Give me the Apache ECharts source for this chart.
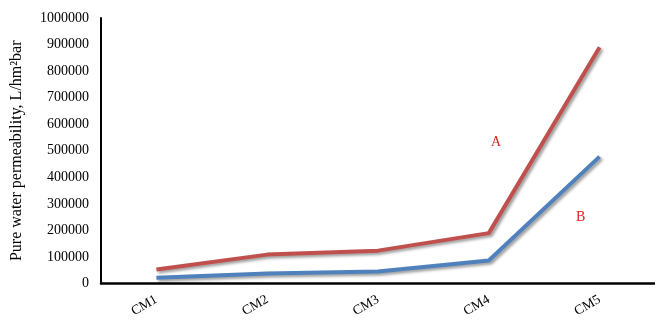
<!DOCTYPE html>
<html><head><meta charset="utf-8">
<script src="https://cdn.jsdelivr.net/npm/echarts@6/dist/echarts.min.js"></script>
<style>html,body{margin:0;padding:0;background:#fff}#c{width:655px;height:320px}</style>
</head><body><div id="c"></div>
<script>
var categories = ['CM1','CM2','CM3','CM4','CM5'];
var seriesA = [53000, 109000, 124000, 190000, 890000];
var seriesB = [22000, 38000, 45000, 87000, 478000];
var yTicks = [0,100000,200000,300000,400000,500000,600000,700000,800000,900000,1000000];
var font = '"Liberation Serif","Times New Roman",serif';
var chart = echarts.init(document.getElementById('c'));
function lineSeries(name, data, color){
  return {name:name,type:'line',data:data,symbol:'none',smooth:false,
    lineStyle:{color:color,width:4,shadowColor:'rgba(0,0,0,0.4)',shadowBlur:3,shadowOffsetX:2,shadowOffsetY:2},
    itemStyle:{color:color}, z:3};
}
chart.setOption({
  animation:false,
  grid:{left:101,right:0,top:18,bottom:36,containLabel:false},
  xAxis:{type:'category',data:categories,boundaryGap:true,
    axisLine:{lineStyle:{color:'#000',width:2.5}},axisTick:{show:false},
    axisLabel:{rotate:30,color:'#000',fontFamily:font,fontSize:13.5,margin:15}},
  yAxis:{type:'value',min:0,max:1000000,interval:100000,
    name:'Pure water permeability, L/hm\u00B2bar',nameLocation:'middle',nameGap:76,nameRotate:90,
    nameTextStyle:{color:'#000',fontFamily:font,fontSize:16},
    axisLine:{show:true,lineStyle:{color:'#000',width:2}},axisTick:{show:false},splitLine:{show:false},
    axisLabel:{color:'#000',fontFamily:font,fontSize:14,margin:12,
      formatter:function(v){return yTicks.indexOf(v)>=0?String(v):'';}}},
  series:[lineSeries('A',seriesA,'#C0504D'),lineSeries('B',seriesB,'#4F81BD')],
  graphic:[
    {type:'text',left:491,top:135,style:{text:'A',fill:'#E02020',font:'14px '+font}},
    {type:'text',left:576,top:210,style:{text:'B',fill:'#E02020',font:'14px '+font}}
  ]
});
</script></body></html>
